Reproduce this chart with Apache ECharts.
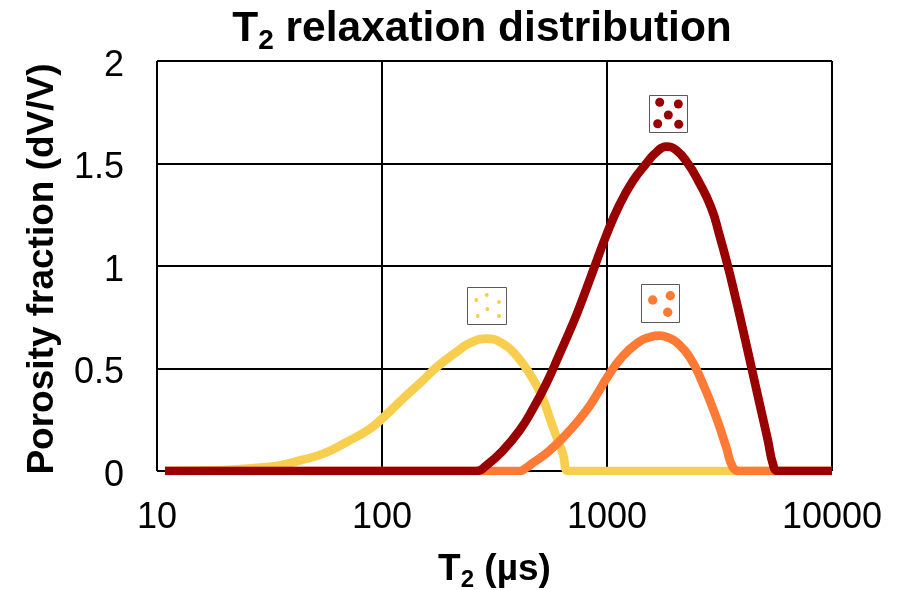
<!DOCTYPE html>
<html><head><meta charset="utf-8">
<style>html,body{margin:0;padding:0;background:#fff}#c{width:912px;height:590px}</style>
<script src="https://cdn.jsdelivr.net/npm/echarts@6/dist/echarts.min.js"></script>
</head><body><div id="c"></div>
<script>
const yTicks = [0, 0.5, 1, 1.5, 2];
const xTicks = [10, 100, 1000, 10000];
const yellowT2 = [10.85, 20, 28.6, 35, 43, 54.7, 69.5, 88.3, 100, 124, 152, 175, 214, 246, 291, 345, 395, 453, 511, 575, 637, 676, 1000, 10000];
const yellowV = [0, 0.005, 0.017, 0.027, 0.051, 0.084, 0.141, 0.206, 0.255, 0.353, 0.442, 0.507, 0.58, 0.624, 0.646, 0.621, 0.564, 0.475, 0.369, 0.214, 0.084, 0, 0, 0];
const orangeT2 = [10.85, 100, 409, 435, 469, 556, 683, 809, 927, 993, 1175, 1396, 1540, 1713, 1880, 2031, 2328, 2667, 3055, 3388, 3622, 3881, 5000, 10000];
const orangeV = [0, 0, 0, 0.014, 0.04, 0.1, 0.198, 0.295, 0.395, 0.45, 0.56, 0.632, 0.652, 0.66, 0.65, 0.629, 0.556, 0.426, 0.263, 0.116, 0.019, 0, 0, 0];
const redT2 = [10.85, 100, 263, 291, 345, 409, 469, 537, 616, 706, 755, 866, 993, 1138, 1304, 1495, 1656, 1834, 2031, 2288, 2535, 2904, 3162, 3443, 3690, 4018, 4376, 4767, 5190, 5462, 5743, 10000];
const redV = [0, 0, 0, 0.027, 0.1, 0.198, 0.304, 0.426, 0.572, 0.72, 0.8, 0.975, 1.15, 1.3, 1.415, 1.5, 1.555, 1.582, 1.565, 1.5, 1.419, 1.285, 1.15, 1, 0.865, 0.69, 0.51, 0.328, 0.149, 0.035, 0, 0];

const FONT = '"Liberation Sans", Arial, sans-serif';
const zip = (a, b) => a.map((v, i) => [v, b[i]]);
const line = (name, t, v, color) => ({
  name, type: 'line', data: zip(t, v), showSymbol: false, smooth: 0.5,
  lineStyle: { color, width: 8.7, cap: 'butt', join: 'round' }, z: 3
});
const icon = (x, y, w, h, color, dots, r) => [
  { type: 'rect', shape: { x, y, width: w, height: h }, style: { fill: '#fff', stroke: '#595959', lineWidth: 1 }, z: 10 },
  ...dots.map(d => ({ type: 'circle', shape: { cx: d[0], cy: d[1], r }, style: { fill: color }, z: 11 }))
];
const sub = { fontFamily: FONT, fontWeight: 'bold', color: '#000' };
const chart = echarts.init(document.getElementById('c'));
chart.setOption({
  animation: false,
  backgroundColor: '#fff',
  title: {
    text: '{a|T}{s|2}{a| relaxation distribution}', left: 477, top: -2, textAlign: 'center',
    textStyle: { rich: {
      a: { ...sub, fontSize: 42.5, lineHeight: 52 },
      s: { ...sub, fontSize: 28, lineHeight: 52, verticalAlign: 'bottom', padding: [16, 0, 0, 0] }
    } }
  },
  grid: { left: 157, right: 80, top: 61, bottom: 119, outerBoundsMode: 'none' },
  xAxis: {
    type: 'log', logBase: 10, min: xTicks[0], max: xTicks[3],
    axisLine: { show: false }, axisTick: { show: false },
    splitLine: { show: true, lineStyle: { color: '#000', width: 2 } },
    minorSplitLine: { show: false },
    axisLabel: { fontFamily: FONT, fontSize: 36, color: '#000', margin: 29, showMinLabel: true, showMaxLabel: true, formatter: v => String(v) },
    name: '{a|T}{s|2}{a| (µs)}', nameLocation: 'middle', nameGap: 77,
    nameTextStyle: { rich: {
      a: { ...sub, fontSize: 37, lineHeight: 44 },
      s: { ...sub, fontSize: 24, lineHeight: 44, verticalAlign: 'bottom', padding: [14, 0, 0, 0] }
    } }
  },
  yAxis: {
    type: 'value', min: yTicks[0], max: yTicks[4], interval: 0.5,
    axisLine: { show: false }, axisTick: { show: false },
    splitLine: { show: true, lineStyle: { color: '#000', width: 2 } },
    axisLabel: {
      margin: 33, formatter: v => '{a|' + v + '}',
      rich: { a: { fontFamily: FONT, fontSize: 36, color: '#000', lineHeight: 40, padding: [10, 0, 0, 0] } }
    },
    name: 'Porosity fraction (dV/V)', nameLocation: 'middle', nameGap: 96, nameRotate: 90,
    nameTextStyle: { fontFamily: FONT, fontWeight: 'bold', fontSize: 37, color: '#000', padding: [0, 6, 0, 0] }
  },
  series: [
    line('Yellow', yellowT2, yellowV, '#F7CE4D'),
    line('Orange', orangeT2, orangeV, '#FF7A35'),
    line('Dark red', redT2, redV, '#990000')
  ],
  graphic: [
    ...icon(649.5, 95.5, 38, 37, '#990000', [[659.7,102.3],[678.3,104],[668.3,115],[657.7,123.7],[678.7,124.3]], 4.5),
    ...icon(467.5, 287.5, 39, 37, '#F7CE4D', [[476.3,300],[486.7,295],[499,302],[487.3,309],[477.7,316],[499,316]], 2),
    ...icon(641.5, 284.5, 38, 38, '#FF7A35', [[652.7,300],[670.3,295.7],[667.7,312.3]], 4.7)
  ]
});
</script></body></html>
